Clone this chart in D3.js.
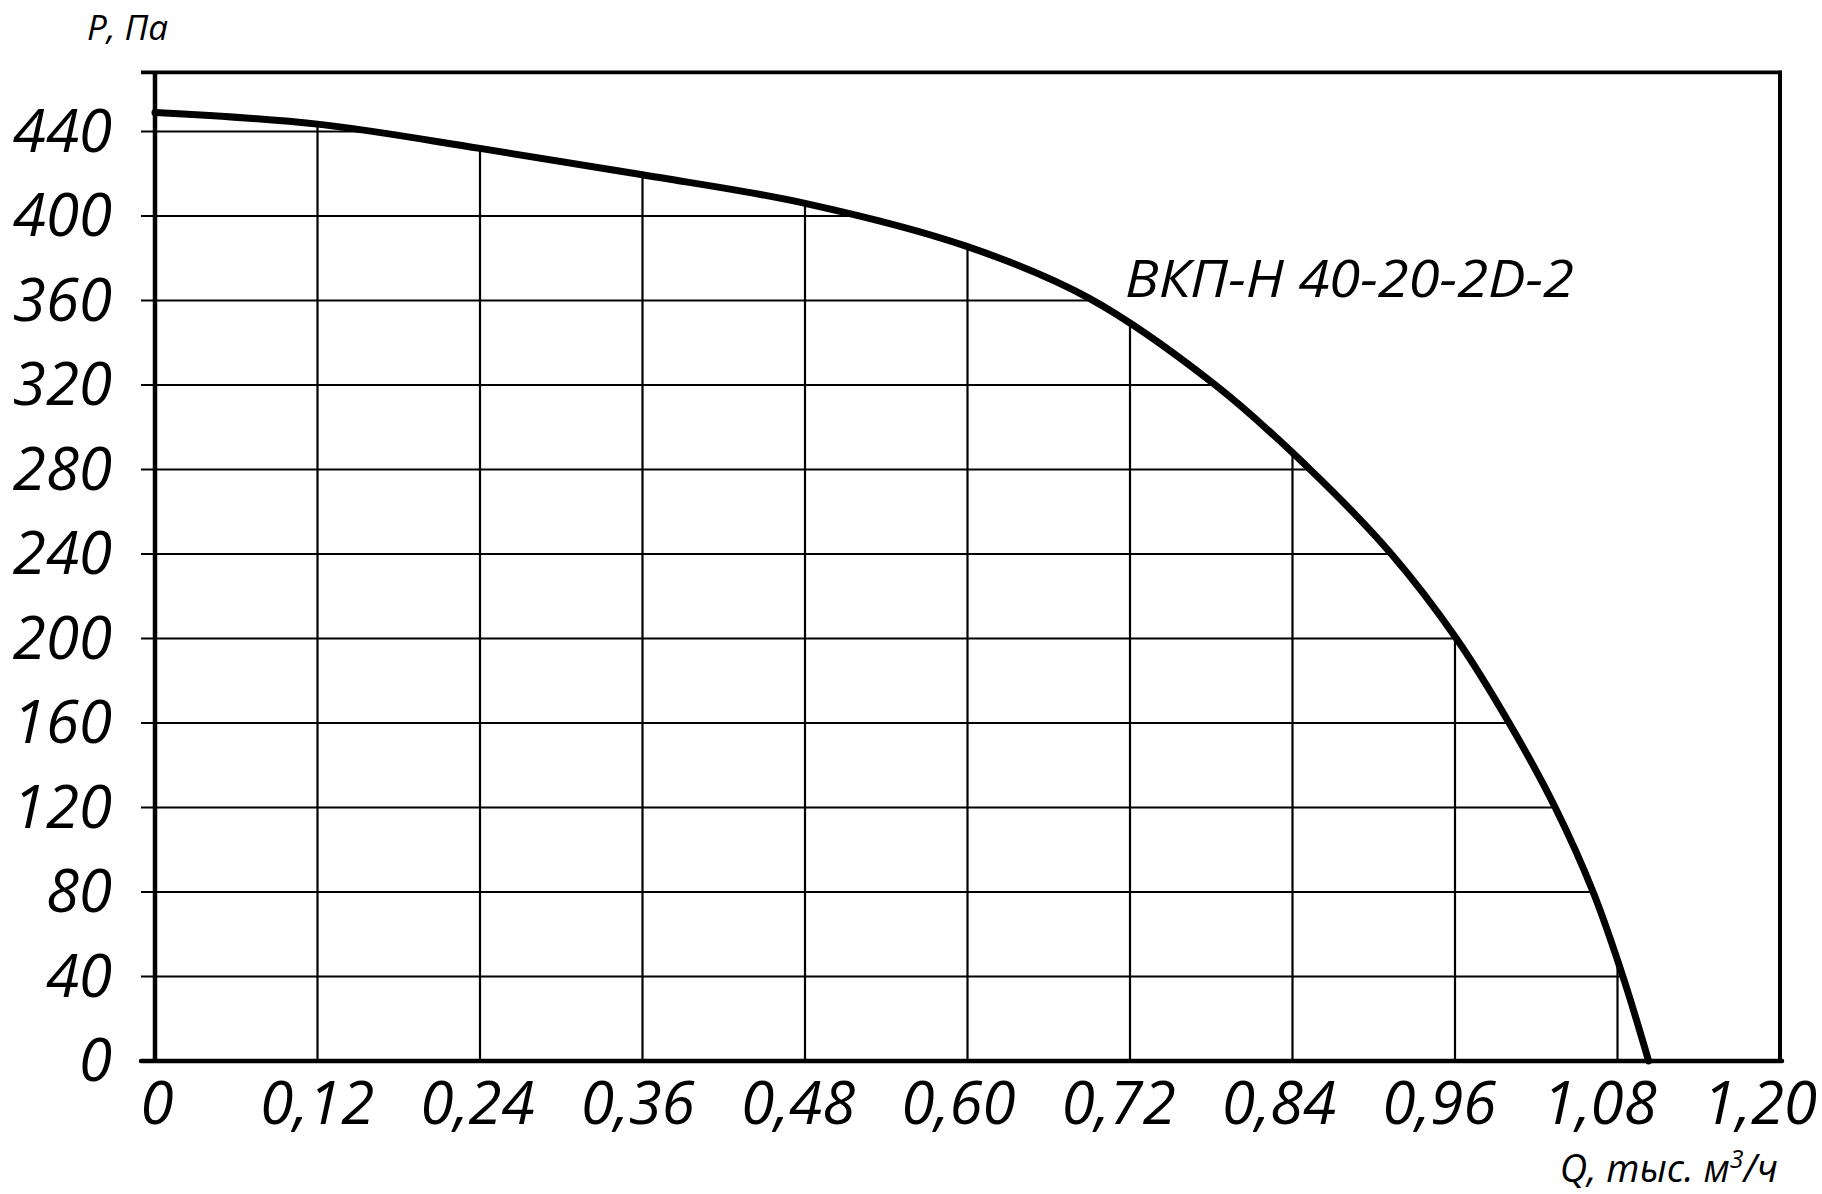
<!DOCTYPE html>
<html>
<head>
<meta charset="utf-8">
<script src="https://cdn.jsdelivr.net/npm/d3@7"></script>
<style>
  html, body { margin: 0; padding: 0; background: #fff; }
  svg { display: block; }
  text { font-family: "Open Sans", "DejaVu Sans", sans-serif; font-style: italic; fill: #000; }
</style>
</head>
<body>
<svg id="chart" width="1822" height="1194"></svg>
<script>
// ---- data (Q in thousand m3/h, P in Pa) ----
const flowQ     = [0, 0.12, 0.24, 0.36, 0.48, 0.60, 0.69, 0.783, 0.853, 0.913, 0.961, 1.000, 1.034, 1.062, 1.084, 1.103];
const pressureP = [449, 443.5, 432, 419.5, 406, 385.5, 361, 320, 280, 240, 200, 160, 120, 80, 40, 0];
const seriesName = "ВКП-Н 40-20-2D-2";

const xTicks      = [0, 0.12, 0.24, 0.36, 0.48, 0.60, 0.72, 0.84, 0.96, 1.08, 1.20];
const xTickLabels = ["0", "0,12", "0,24", "0,36", "0,48", "0,60", "0,72", "0,84", "0,96", "1,08", "1,20"];
const yTicks      = [0, 40, 80, 120, 160, 200, 240, 280, 320, 360, 400, 440];
const yTickLabels = ["0", "40", "80", "120", "160", "200", "240", "280", "320", "360", "400", "440"];
const yFrameTop   = 468;

const yTitle = "P, Па";
const xTitleMain = "Q, тыс. м";
const xTitleSup = "3";
const xTitleEnd = "/ч";

// ---- layout ----
const svg = d3.select("#chart");
const x = d3.scaleLinear().domain([0, 1.2]).range([155, 1780]);
const xLab = d3.scaleLinear().domain([0, 1.2]).range([157, 1760]);
const y = d3.scaleLinear().domain([0, 440]).range([1061, 131.5]);
const tickLen = 14;

const line = d3.line()
  .x((d, i) => x(flowQ[i]))
  .y((d, i) => y(pressureP[i]))
  .curve(d3.curveCatmullRom.alpha(0.5));

const gGrid = svg.append("g");
const gFrame = svg.append("g");
const curve = svg.append("path")
  .attr("d", line(flowQ))
  .attr("fill", "none")
  .attr("stroke", "#000")
  .attr("stroke-width", 7)
  .attr("stroke-linecap", "round")
  .attr("stroke-linejoin", "round");

// sample the drawn curve to end the grid lines on it
const node = curve.node();
const total = node.getTotalLength();
const samples = [];
for (let i = 0; i <= 4000; i++) {
  const p = node.getPointAtLength(total * i / 4000);
  samples.push([p.x, p.y]);
}
function curveYAtX(px) {
  let best = samples[0], bd = Infinity;
  for (const s of samples) { const d = Math.abs(s[0] - px); if (d < bd) { bd = d; best = s; } }
  return best[1];
}
function curveXAtY(py) {
  let best = samples[0], bd = Infinity;
  for (const s of samples) { const d = Math.abs(s[1] - py); if (d < bd) { bd = d; best = s; } }
  return best[0];
}

// vertical grid lines (from bottom up to the curve)
xTicks.filter(v => v > 0 && v < 1.2).forEach(v => {
  const px = x(v);
  gGrid.append("line")
    .attr("x1", px).attr("x2", px)
    .attr("y1", y(0)).attr("y2", curveYAtX(px))
    .attr("stroke", "#000").attr("stroke-width", 2.2);
});

// horizontal grid lines (from tick stub to the curve)
yTicks.filter(v => v > 0).forEach(v => {
  const py = y(v);
  gGrid.append("line")
    .attr("x1", x(0) - tickLen).attr("x2", curveXAtY(py))
    .attr("y1", py).attr("y2", py)
    .attr("stroke", "#000").attr("stroke-width", 2.2);
});

// frame
gFrame.append("line") // top
  .attr("x1", x(0) - tickLen).attr("x2", x(1.2) + 2)
  .attr("y1", y(yFrameTop)).attr("y2", y(yFrameTop))
  .attr("stroke", "#000").attr("stroke-width", 3.6);
gFrame.append("line") // right
  .attr("x1", x(1.2)).attr("x2", x(1.2))
  .attr("y1", y(yFrameTop) - 1.5).attr("y2", y(0))
  .attr("stroke", "#000").attr("stroke-width", 4);
gFrame.append("line") // bottom
  .attr("x1", x(0) - tickLen).attr("x2", x(1.2) + 2)
  .attr("y1", y(0)).attr("y2", y(0))
  .attr("stroke", "#000").attr("stroke-width", 4.5)
  .attr("stroke-linecap", "round");
gFrame.append("line") // left
  .attr("x1", x(0)).attr("x2", x(0))
  .attr("y1", y(yFrameTop)).attr("y2", y(0))
  .attr("stroke", "#000").attr("stroke-width", 4.5);

// y tick labels
svg.append("g").selectAll("text").data(yTicks).join("text")
  .attr("x", x(0) - 43)
  .attr("y", d => y(d) + 20)
  .attr("text-anchor", "end")
  .attr("font-size", 60)
  .text((d, i) => yTickLabels[i]);

// x tick labels
svg.append("g").selectAll("text").data(xTicks).join("text")
  .attr("x", d => xLab(d))
  .attr("y", y(0) + 63)
  .attr("text-anchor", "middle")
  .attr("font-size", 60)
  .text((d, i) => xTickLabels[i]);

// axis titles
svg.append("text")
  .attr("x", 87).attr("y", 40)
  .attr("font-size", 35)
  .text(yTitle);

const xt = svg.append("text")
  .attr("x", 1778).attr("y", 1182)
  .attr("text-anchor", "end")
  .attr("font-size", 38);
xt.append("tspan").text(xTitleMain);
xt.append("tspan").attr("font-size", 25).attr("dy", -14).text(xTitleSup);
xt.append("tspan").attr("dy", 14).text(xTitleEnd);

// series label
svg.append("text")
  .attr("x", 1125).attr("y", 297)
  .attr("font-size", 51)
  .attr("textLength", 449)
  .attr("lengthAdjust", "spacingAndGlyphs")
  .text(seriesName);
</script>
</body>
</html>
